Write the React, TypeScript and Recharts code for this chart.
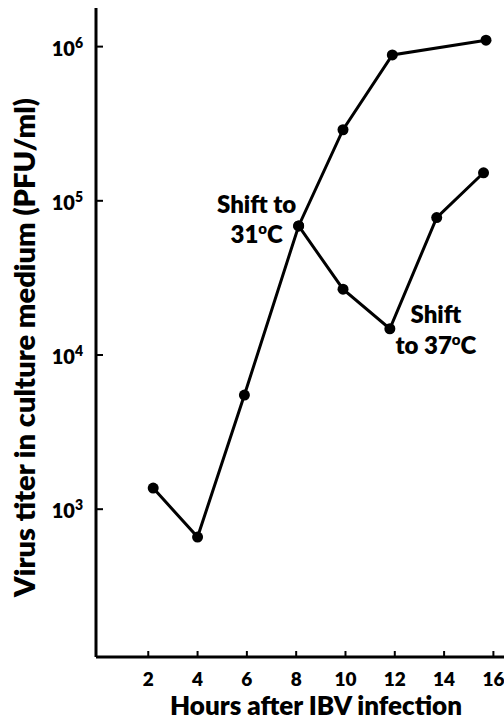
import { LineChart, Line, XAxis, YAxis, ReferenceDot, Label } from 'recharts';

// Hours after infection / titer (PFU/ml)
const hoursA = [2.2, 4, 5.9, 8.1, 9.9, 11.9, 15.7];
const titerA = [1370, 660, 5500, 68700, 289000, 883000, 1100000];

const hoursB = [8.1, 9.9, 11.8, 13.7, 15.6];
const titerB = [68700, 26700, 14800, 77800, 152000];

const xTicks = [2, 4, 6, 8, 10, 12, 14, 16];
const yTicks = [1000, 10000, 100000, 1000000];

const seriesA = hoursA.map((x, i) => ({ x, y: titerA[i] }));
const seriesB = hoursB.map((x, i) => ({ x, y: titerB[i] }));

const FONT = 'Lato, "Open Sans", sans-serif';
const W = 800;

function XTick({ x, y, payload }: any) {
  return (
    <g>
      <line x1={x} y1={y} x2={x} y2={y - 6} stroke="#000" strokeWidth={2} />
      <text x={x} y={y + 29} textAnchor="middle" fontFamily={FONT} fontWeight={W} fontSize={19} fill="#000">
        {payload.value}
      </text>
    </g>
  );
}

function YTick({ x, y, payload }: any) {
  const exp = Math.round(Math.log10(payload.value));
  return (
    <g>
      <line x1={x} y1={y} x2={x + 7} y2={y} stroke="#000" strokeWidth={2} />
      <text x={x - 13} y={y + 9} textAnchor="end" fontFamily={FONT} fontWeight={W} fontSize={20} fill="#000">
        10
        <tspan fontSize={14} dy={-8}>{exp}</tspan>
      </text>
    </g>
  );
}

function ShiftNote({ viewBox, lines, dx, dys }: any) {
  const cx = viewBox.x + (viewBox.width || 0) / 2 + dx;
  const cy = viewBox.y + (viewBox.height || 0) / 2;
  return (
    <text textAnchor="middle" fontFamily={FONT} fontWeight={W} fontSize={24} fill="#000">
      {lines.map((ln: any, i: number) => (
        <tspan key={i} x={cx} y={cy + dys[i]}>
          {ln.pre}
          {ln.sup && <tspan fontSize={15} dy={-9}>{ln.sup}</tspan>}
          {ln.post && <tspan dy={ln.sup ? 9 : 0}>{ln.post}</tspan>}
        </tspan>
      ))}
    </text>
  );
}

export default function App() {
  return (
    <div style={{ position: 'absolute', left: 0, top: 0, background: '#fff' }}>
      <LineChart width={504} height={721} margin={{ top: 8, right: 0, bottom: 0, left: 0 }}>
        <XAxis
          type="number"
          dataKey="x"
          domain={[-0.12, 16.43]}
          ticks={xTicks}
          allowDataOverflow
          height={64}
          tickSize={0}
          tickMargin={0}
          tickLine={false}
          axisLine={{ stroke: '#000', strokeWidth: 3 }}
          tick={<XTick />}
        >
          <Label
            content={({ viewBox }: any) => (
              <text x={viewBox.x + viewBox.width / 2 + 16} y={715} textAnchor="middle" fontFamily={FONT} fontWeight={W} fontSize={26} fill="#000">
                Hours after IBV infection
              </text>
            )}
          />
        </XAxis>
        <YAxis
          type="number"
          dataKey="y"
          scale="log"
          domain={[110, 1780000]}
          ticks={yTicks}
          allowDataOverflow
          width={96}
          tickSize={0}
          tickMargin={0}
          tickLine={false}
          axisLine={{ stroke: '#000', strokeWidth: 3 }}
          tick={<YTick />}
        >
          <Label
            content={({ viewBox }: any) => {
              const cy = viewBox.y + viewBox.height / 2 + 15;
              return (
                <text x={35} y={cy} transform={`rotate(-90 35 ${cy})`} textAnchor="middle" fontFamily={FONT} fontWeight={W} fontSize={29} fill="#000">
                  Virus titer in culture medium (PFU/ml)
                </text>
              );
            }}
          />
        </YAxis>
        <Line
          data={seriesA}
          dataKey="y"
          stroke="#000"
          strokeWidth={3}
          dot={{ r: 5.5, fill: '#000', stroke: '#000', strokeWidth: 0 }}
          isAnimationActive={false}
        />
        <Line
          data={seriesB}
          dataKey="y"
          stroke="#000"
          strokeWidth={3}
          dot={{ r: 5.5, fill: '#000', stroke: '#000', strokeWidth: 0 }}
          isAnimationActive={false}
        />
        <ReferenceDot x={hoursB[0]} y={titerB[0]} r={0} fill="none" stroke="none" ifOverflow="visible">
          <Label
            content={(p: any) => (
              <ShiftNote
                viewBox={p.viewBox}
                dx={-42}
                dys={[-13, 17]}
                lines={[{ pre: 'Shift to' }, { pre: '31', sup: 'o', post: 'C' }]}
              />
            )}
          />
        </ReferenceDot>
        <ReferenceDot x={hoursB[2]} y={titerB[2]} r={0} fill="none" stroke="none" ifOverflow="visible">
          <Label
            content={(p: any) => (
              <ShiftNote
                viewBox={p.viewBox}
                dx={46}
                dys={[-6, 25]}
                lines={[{ pre: 'Shift' }, { pre: 'to 37', sup: 'o', post: 'C' }]}
              />
            )}
          />
        </ReferenceDot>
      </LineChart>
    </div>
  );
}
